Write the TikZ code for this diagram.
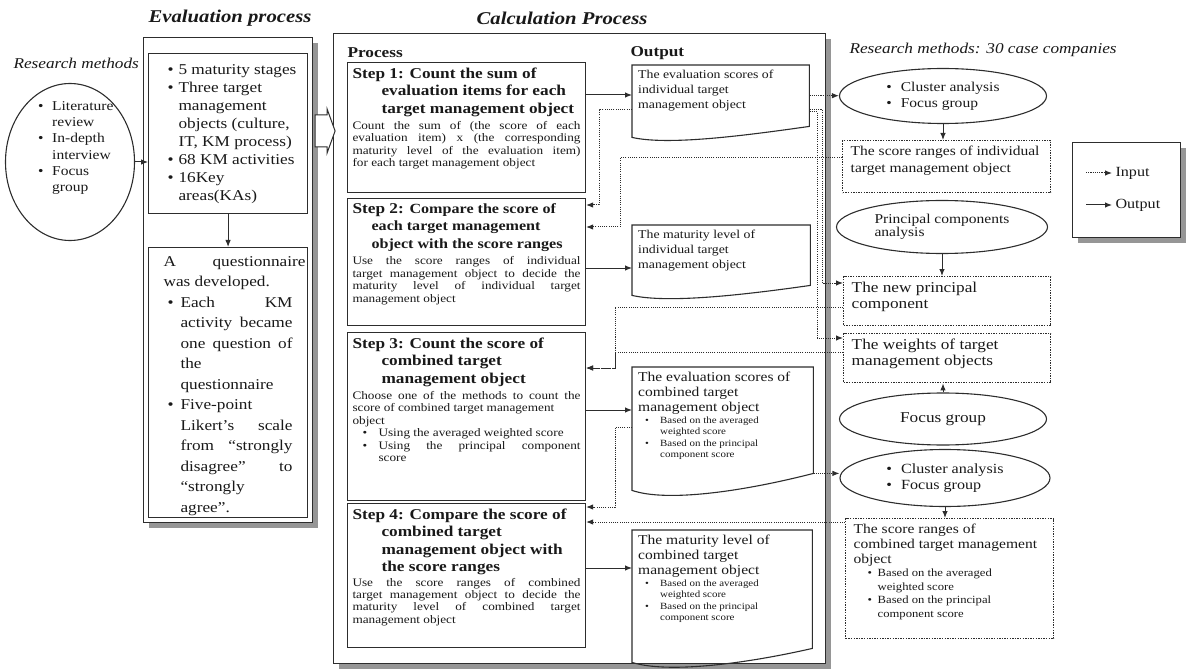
\documentclass[tikz,border=0pt]{standalone}
\usepackage{fontspec}
\setmainfont{Liberation Serif}[FakeStretch=1.15]
\usepackage{xcolor}
\usepackage{tikz}
\usetikzlibrary{shapes.geometric, arrows.meta, calc, shadows}
\definecolor{FigLine}{RGB}{45,45,45}
\definecolor{FigText}{RGB}{25,25,25}
\definecolor{FigShade}{RGB}{150,150,150}

\newcommand{\fTitle}{\fontsize{18}{20}\selectfont\bfseries\itshape}
\newcommand{\fMethod}{\fontsize{15}{17}\selectfont\itshape}
\newcommand{\fLabel}{\fontsize{15}{17}\selectfont\bfseries}
\newcommand{\fHead}{\fontsize{15}{17.5}\selectfont\bfseries}
\newcommand{\fBody}{\fontsize{11.5}{12.4}\selectfont}
\newcommand{\bpt}[3]{\par\noindent\hangindent=#2\hangafter=1\hbox to #2{\hspace*{#1}\textbullet\hfil}#3\par}
\newcommand{\inbox}[3]{\parbox[t][#1][t]{#2}{#3}}

\tikzset{
  plainbox/.style={draw=FigLine, line width=1.1pt, anchor=north west, inner sep=0pt},
  stepbox/.style={draw=FigLine, line width=1.1pt, fill=white, anchor=north west, inner sep=5pt},
  docnode/.style={anchor=north west, inner xsep=6pt, inner ysep=5pt},
  docline/.style={draw=FigLine, line width=1.1pt},
  dotbox/.style={draw=FigLine, line width=1.4pt, dash pattern=on 1.4pt off 1.2pt, anchor=north west, inner xsep=8pt, inner ysep=5pt},
  method/.style={ellipse, draw=FigLine, line width=1.1pt, inner sep=0pt, align=left},
  shadowed/.style={fill=white, drop shadow={shadow xshift=5pt, shadow yshift=-5pt, fill=FigShade, opacity=1}},
  outarr/.style={draw=FigLine, line width=1pt, -{Latex[length=7pt,width=5.5pt]}},
  inarr/.style={outarr, dash pattern=on 1.1pt off 1.1pt},
}

\begin{document}
\begin{tikzpicture}[x=1pt, y=-1pt, text=FigText]
  \useasboundingbox (0,0) rectangle (1186,671);

  % titles
  \node[font=\fTitle] (evtitle) at (230,18) {Evaluation process};
  \node[font=\fTitle] (calctitle) at (562,18) {Calculation Process};
  \node[font=\fMethod, anchor=west] (rmleft) at (10,63) {Research methods};
  \node[font=\fMethod, anchor=west] (rmright) at (846,50) {Research methods: 30 case companies};

  % evaluation process
  \node[plainbox, shadowed, minimum width=169pt, minimum height=485pt] (ev) at (143,37) {};
  \node[method, minimum width=129pt, minimum height=157pt] (lm) at (70,162) {};
  \node[anchor=north west, inner sep=0pt] (lmtxt) at (33,101) {\parbox{92pt}{\raggedright\fontsize{13.5}{16.3}\selectfont
    \bpt{5pt}{19pt}{Literature\newline review}
    \bpt{5pt}{19pt}{In-depth\newline interview}
    \bpt{5pt}{19pt}{Focus\newline group}}};
  \node[stepbox] (evA) at (148,53) {\inbox{150pt}{149pt}{\raggedright\fontsize{15}{18}\selectfont\vspace*{6pt}
    \bpt{14pt}{25pt}{5 maturity stages}
    \bpt{14pt}{25pt}{Three target\newline management\newline objects (culture,\newline IT, KM process)}
    \bpt{14pt}{25pt}{68 KM activities}
    \bpt{14pt}{25pt}{16Key\newline areas(KAs)}}};
  \node[stepbox, inner xsep=2pt] (evB) at (148,247) {\inbox{260pt}{155pt}{\fontsize{15}{20.5}\selectfont\vspace*{4pt}
    \leftskip=13pt A questionnaire\linebreak was developed.\par
    \leftskip=0pt \rightskip=13pt
    \bpt{17pt}{30pt}{Each KM\linebreak activity became\linebreak one question of\linebreak the\newline questionnaire}
    \bpt{17pt}{30pt}{Five-point\newline Likert’s scale\linebreak from “strongly\linebreak disagree” to\linebreak “strongly\newline agree”.}}};
  \draw[outarr] (lm.east) -- (lm.east -| evA.west);
  \draw[outarr] (evA.south) -- (evB.north);

  % calculation process
  \node[plainbox, shadowed, minimum width=492pt, minimum height=630pt] (calc) at (333,33) {};
  \draw[FigLine, line width=1pt, fill=white] ($(ev.north east)+(2,78)$) -- ++(12,0) -- ++(0,-6) -- ++(8,22) -- ++(-8,22) -- ++(0,-6) -- ++(-12,0) -- cycle;
  \node[font=\fLabel, anchor=west] (proclbl) at (344,53) {Process};
  \node[font=\fLabel, anchor=west] (outlbl) at (627,53) {Output};

  \node[stepbox] (step1) at (347,62) {\inbox{120pt}{228pt}{%
    {\fHead\hangindent=29pt\hangafter=1 Step 1: Count the sum of\newline evaluation items for each\newline target management object\par}
    \vspace{4pt}
    {\fBody Count the sum of (the score of each\linebreak evaluation item) x (the corresponding\linebreak maturity level of the evaluation item)\linebreak for each target management object\par}}};
  \node[stepbox] (step2) at (347,198) {\inbox{117pt}{228pt}{%
    {\fHead\hangindent=19pt\hangafter=1 Step 2: {\fontsize{14}{17.5}\selectfont Compare the score of\newline each target management\newline object with the score ranges}\par}
    \vspace{4pt}
    {\fBody Use the score ranges of individual\linebreak target management object to decide the\linebreak maturity level of individual target\linebreak management object\par}}};
  \node[stepbox] (step3) at (347,332) {\inbox{158pt}{228pt}{%
    {\fHead\hangindent=29pt\hangafter=1 Step 3: Count the score of\newline combined target\newline management object\par}
    \vspace{4pt}
    {\fBody Choose one of the methods to count the\linebreak score of combined target management\newline object\par
    \bpt{10pt}{26pt}{Using the averaged weighted score}
    \bpt{10pt}{26pt}{Using the principal component\linebreak score}}}};
  \node[stepbox] (step4) at (347,503) {\inbox{134pt}{228pt}{%
    {\fHead\hangindent=29pt\hangafter=1 Step 4: Compare the score of\newline combined target\newline management object with\newline the score ranges\par}
    \vspace{2pt}
    {\fBody Use the score ranges of combined\linebreak target management object to decide the\linebreak maturity level of combined target\linebreak management object\par}}};

  % outputs
  \node[docnode] (out1) at (632,65) {\inbox{51pt}{165pt}{\raggedright\fontsize{12}{15}\selectfont The evaluation scores of\\individual target\\management object}};
  \node[docnode] (out2) at (632,225) {\inbox{50pt}{166pt}{\raggedright\fontsize{12}{15}\selectfont The maturity level of\\individual target\\management object}};
  \node[docnode] (out3) at (632,367) {\inbox{96pt}{169pt}{\raggedright\fontsize{13.5}{15}\selectfont The evaluation scores of\\combined target\\management object\par
    {\fontsize{9.5}{11.5}\selectfont
    \bpt{7pt}{22pt}{Based on the averaged\newline weighted score}
    \bpt{7pt}{22pt}{Based on the principal\newline component score}}}};
  \node[docnode] (out4) at (632,530) {\inbox{108pt}{168pt}{\raggedright\fontsize{13.5}{15}\selectfont The maturity level of\\combined target\\management object\par
    {\fontsize{9.5}{11.5}\selectfont
    \bpt{7pt}{22pt}{Based on the averaged\newline weighted score}
    \bpt{7pt}{22pt}{Based on the principal\newline component score}}}};
  \draw[docline] (out1.north west) -- (out1.north east) -- (out1.south east) .. controls +(-70,10) and +(35,8) .. ($(out1.south west)+(0,11)$) -- cycle;
  \draw[docline] (out2.north west) -- (out2.north east) -- (out2.south east) .. controls +(-70,10) and +(35,8) .. ($(out2.south west)+(0,10)$) -- cycle;
  \draw[docline] (out3.north west) -- (out3.north east) -- (out3.south east) .. controls +(-70,18) and +(35,12) .. ($(out3.south west)+(0,17)$) -- cycle;
  \draw[docline] (out4.north west) -- (out4.north east) -- (out4.south east) .. controls +(-70,16) and +(35,11) .. ($(out4.south west)+(0,14)$) -- cycle;

  % research methods of the case companies
  \node[method, minimum width=207pt, minimum height=55pt, font=\fontsize{13.5}{16}\selectfont] (clusA) at (943,96) {\textbullet\hspace{9pt}Cluster analysis\\\textbullet\hspace{9pt}Focus group};
  \node[dotbox] (ranges) at (842,140) {\inbox{42pt}{192pt}{\raggedright\fontsize{13.5}{17}\selectfont The score ranges of individual\\target management object}};
  \node[method, minimum width=211pt, minimum height=53pt, font=\fontsize{13.5}{13}\selectfont] (pca) at (942,227) {Principal components\\analysis};
  \node[dotbox] (newpc) at (843,276) {\inbox{39pt}{191pt}{\raggedright\fontsize{15}{16.5}\selectfont The new principal\\component}};
  \node[dotbox] (weights) at (843,333) {\inbox{39pt}{191pt}{\raggedright\fontsize{15}{16.5}\selectfont The weights of target\\management objects}};
  \node[method, minimum width=207pt, minimum height=52pt, font=\fontsize{15}{17}\selectfont] (focus) at (943,419) {Focus group};
  \node[method, minimum width=210pt, minimum height=57pt, font=\fontsize{14}{16}\selectfont] (clusB) at (945,478) {\textbullet\hspace{9pt}Cluster analysis\\\textbullet\hspace{9pt}Focus group};
  \node[dotbox] (combranges) at (845,518) {\inbox{110pt}{192pt}{\raggedright\fontsize{13.5}{15}\selectfont The score ranges of\\combined target management\\object\par
    {\fontsize{11}{13.5}\selectfont
    \bpt{14pt}{24pt}{Based on the averaged\newline weighted score}
    \bpt{14pt}{24pt}{Based on the principal\newline component score}}}};

  % legend
  \node[plainbox, shadowed, minimum width=108pt, minimum height=95pt] (legend) at (1072,142) {};
  \node[anchor=west, font=\fontsize{14}{16}\selectfont] (lgin) at (1112,173) {Input};
  \node[anchor=west, font=\fontsize{14}{16}\selectfont] (lgout) at (1112,205) {Output};
  \coordinate (lgsrcA) at (1086,173);
  \coordinate (lgsrcB) at (1086,205);
  \draw[inarr] (lgsrcA) -- (lgin.west);
  \draw[outarr] (lgsrcB) -- (lgout.west);

  % output arrows
  \coordinate (o1in) at ($(out1.north west)+(0,30)$);
  \coordinate (o2in) at ($(out2.north west)+(0,43)$);
  \coordinate (o3in) at ($(out3.north west)+(0,43)$);
  \coordinate (o4in) at ($(out4.north west)+(0,38)$);
  \draw[outarr] (step1.east |- o1in) -- (o1in);
  \draw[outarr] (step2.east |- o2in) -- (o2in);
  \draw[outarr] (step3.east |- o3in) -- (o3in);
  \draw[outarr] (step4.east |- o4in) -- (o4in);
  \draw[outarr] (clusA.south) -- (clusA.south |- ranges.north);
  \draw[outarr] (pca.south) -- (pca.south |- newpc.north);
  \draw[outarr] (focus.north) -- (focus.north |- weights.south);
  \draw[outarr] (clusB.south) -- (clusB.south |- combranges.north);

  % input arrows
  \coordinate (o1outA) at ($(out1.north east)+(0,45)$);
  \coordinate (o1outB) at ($(out1.north west)+(0,45)$);
  \coordinate (pcin) at ($(newpc.north west)+(0,7)$);
  \coordinate (wtin) at ($(weights.north west)+(0,5)$);
  \coordinate (s2inA) at ($(step2.north east)+(0,7)$);
  \coordinate (s2inB) at ($(step2.north east)+(0,29)$);
  \coordinate (rgout) at ($(ranges.north west)+(0,18)$);
  \coordinate (pcout) at ($(newpc.north west)+(0,31)$);
  \coordinate (wtout) at ($(weights.north west)+(0,19)$);
  \coordinate (s3in) at ($(step3.north east)+(0,36)$);
  \coordinate (o3outB) at ($(out3.north west)+(0,60)$);
  \coordinate (s4inA) at ($(step4.north east)+(0,4)$);
  \coordinate (crout) at ($(combranges.north west)+(0,4)$);
  \draw[inarr] (out1.east) -- (out1.east -| clusA.west);
  \draw[inarr] (o1outA) -- ++(13,0) |- (pcin);
  \draw[inarr] ([yshift=-2pt]o1outA) -- ++(8,0) |- (wtin);
  \draw[inarr] (o1outB) -- ++(-33,0) |- (s2inA);
  \draw[inarr] (rgout) -- ++(-222,0) |- (s2inB);
  \draw[inarr] (pcout) -- ++(-228,0) |- (s3in);
  \draw[inarr] (wtout) -- ++(-228,0) |- (s3in);
  \draw[inarr] (out3.south east) -- (out3.south east -| clusB.west);
  \draw[inarr] (o3outB) -- ++(-17,0) |- (s4inA);
  \draw[inarr] (crout) -- (crout -| step4.east);
\end{tikzpicture}
\end{document}
